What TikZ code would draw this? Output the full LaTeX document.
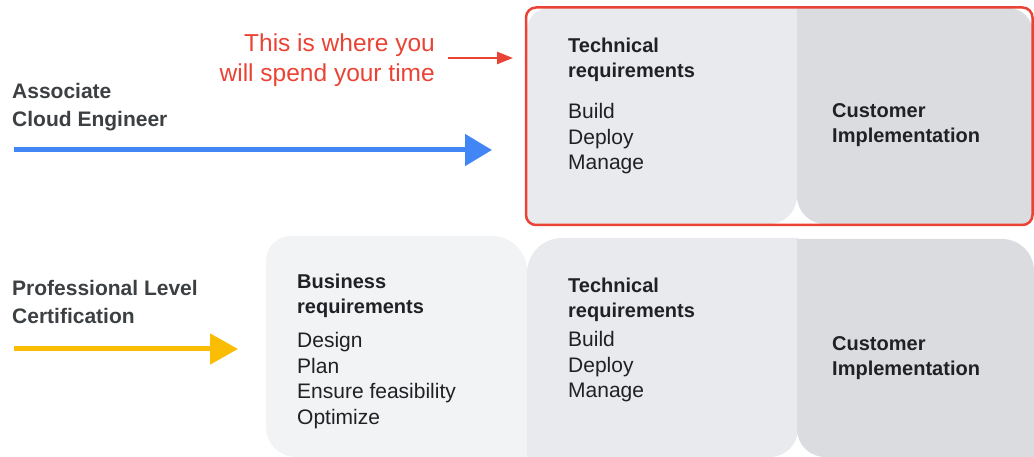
\documentclass[tikz,border=0pt]{standalone}
\usepackage{fontspec}
\setmainfont{Liberation Sans}
\usetikzlibrary{arrows.meta}
\definecolor{gRed}{HTML}{EA4335}
\definecolor{gBlue}{HTML}{4285F4}
\definecolor{gYellow}{HTML}{FBBC04}
\definecolor{gText}{HTML}{202124}
\definecolor{gLabel}{HTML}{3C4043}
\definecolor{bizFill}{HTML}{F1F3F4}
\definecolor{techFill}{HTML}{E8EAED}
\definecolor{custFill}{HTML}{DADCE0}
% #1 fill, #2 left, #3 top(px, y down), #4 right, #5 bottom(px), #6 tl, #7 tr, #8 br, #9 bl
\newcommand\rbox[9]{%
  \fill[#1] (#2,{457-#3-#6}) -- (#2,{457-#5+#9})
    arc[start angle=180,end angle=270,radius=#9] -- ({#4-#8},{457-#5})
    arc[start angle=270,end angle=360,radius=#8] -- (#4,{457-#3-#7})
    arc[start angle=0,end angle=90,radius=#7] -- ({#2+#6},{457-#3})
    arc[start angle=90,end angle=180,radius=#6] -- cycle;}
\tikzset{
  txt/.style={anchor=base west, inner sep=0pt, text=gText, font=\fontsize{21}{25.5}\selectfont},
  head/.style={anchor=base west, inner sep=0pt, text=gText, font=\fontsize{20}{25}\selectfont\bfseries},
  sidelabel/.style={anchor=base west, inner sep=0pt, text=gLabel, font=\fontsize{21}{28}\selectfont\bfseries},
  note/.style={anchor=base east, inner sep=0pt, text=gRed, font=\fontsize{24.5}{30}\selectfont},
}
\begin{document}
\begin{tikzpicture}[x=1pt,y=1pt]
\useasboundingbox (0,0) rectangle (1034,457);
% top row boxes
\rbox{techFill}{527}{8}{797}{224}{22}{0.01}{28}{10}
\rbox{custFill}{797}{8}{1033}{224}{0.01}{25}{10}{28}
\draw[gRed, line width=2.5pt, rounded corners=10pt] (526,449.5) rectangle (1032.5,232);
% bottom row boxes
\rbox{bizFill}{266}{236}{527}{457}{25}{35}{0.01}{30}
\rbox{techFill}{527}{238}{798}{457}{35}{0.01}{28}{0.01}
\rbox{custFill}{797}{239}{1034}{457}{0.01}{32}{0.01}{28}
% red note
\node[note] (n1) at (435,405) {This is where you};
\node[note] (n2) at (435,375) {will spend your time};
\coordinate (rS) at (448,399);
\coordinate (rE) at (513,399);
\draw[gRed, line width=2.5pt, -{Triangle[length=16pt,width=12pt]}] (rS) -- (rE);
% associate
\node[sidelabel] (ace) at (12,358) {\vtop{\hbox{Associate}\hbox{Cloud Engineer}}};
\coordinate (bS) at (14,307);
\coordinate (bE) at (492,307);
\draw[gBlue, line width=5pt, -{Triangle[length=27pt,width=31pt]}] (bS) -- (bE);
% professional
\node[sidelabel] (pro) at (12,161) {\vtop{\hbox{Professional Level}\hbox{Certification}}};
\coordinate (yS) at (14,108);
\coordinate (yE) at (238,108);
\draw[gYellow, line width=5pt, -{Triangle[length=28pt,width=30pt]}] (yS) -- (yE);
% top texts
\node[head] (th1) at (568,404) {\vtop{\hbox{Technical}\hbox{requirements}}};
\node[txt] (tl1) at (568,338) {\vtop{\hbox{Build}\hbox{Deploy}\hbox{Manage}}};
\node[head] (ch1) at (832,339) {\vtop{\hbox{Customer}\hbox{Implementation}}};
% bottom texts
\node[head] (bh2) at (297,168) {\vtop{\hbox{Business}\hbox{requirements}}};
\node[txt] (bl2) at (297,109) {\vtop{\hbox{Design}\hbox{Plan}\hbox{Ensure feasibility}\hbox{Optimize}}};
\node[head] (th2) at (568,164) {\vtop{\hbox{Technical}\hbox{requirements}}};
\node[txt] (tl2) at (568,110) {\vtop{\hbox{Build}\hbox{Deploy}\hbox{Manage}}};
\node[head] (ch2) at (832,106) {\vtop{\hbox{Customer}\hbox{Implementation}}};
\end{tikzpicture}
\end{document}
